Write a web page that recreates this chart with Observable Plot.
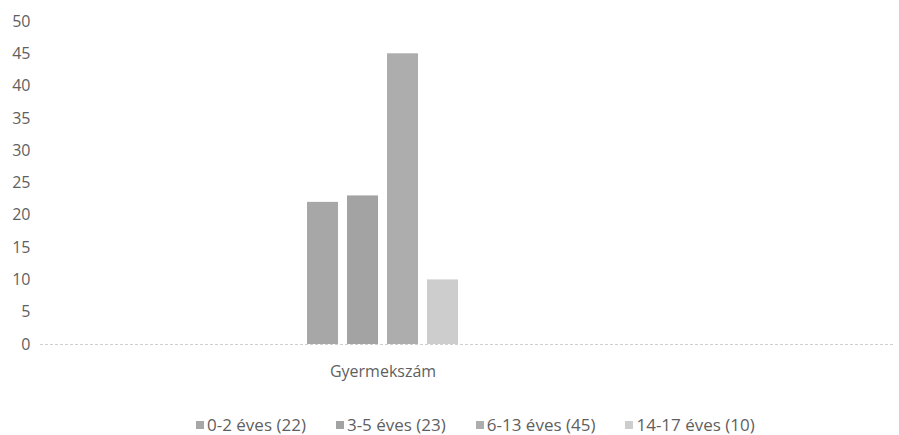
<!DOCTYPE html>
<html>
<head>
<meta charset="utf-8">
<script src="https://cdn.jsdelivr.net/npm/d3@7"></script>
<script src="https://cdn.jsdelivr.net/npm/@observablehq/plot@0.6"></script>
<style>
  html, body { margin: 0; padding: 0; background: #fff; }
  body { font-family: "Open Sans", sans-serif; width: 899px; }
  #legend {
    display: flex; justify-content: flex-start; align-items: center;
    gap: 30px; margin-top: 23px; padding-left: 196px;
    font-size: 17px; color: #5f5f5f; line-height: 20px;
  }
  .item { display: flex; align-items: center; white-space: nowrap; }
  .sw { width: 8px; height: 8px; margin-right: 3px; display: inline-block; }
</style>
</head>
<body>
<div id="chart"></div>
<div id="legend"></div>
<script>
// ---- data ----
const categories = ["0-2 éves (22)", "3-5 éves (23)", "6-13 éves (45)", "14-17 éves (10)"];
const values = [22, 23, 45, 10];
const groupLabel = "Gyermekszám";
const yTicks = [0, 5, 10, 15, 20, 25, 30, 35, 40, 45, 50];
const colors = ["#a7a7a7", "#a3a3a3", "#adadad", "#cdcdcd"];

const data = categories.map((c, i) => ({category: c, value: values[i]}));

// ---- layout ----
const W = 899, H = 392, mL = 40, mR = 5, mT = 21, mB = 48;
const xRange = [307, 458];
const frameCenter = mL + (W - mL - mR) / 2;
const bandCenter = (xRange[0] + xRange[1]) / 2;

const chart = Plot.plot({
  width: W, height: H,
  marginLeft: mL, marginRight: mR, marginTop: mT, marginBottom: mB,
  style: {fontFamily: "Open Sans", fontSize: "16px", color: "#5f5f5f", background: "#fff"},
  x: {domain: categories, range: xRange, paddingInner: 0.225, paddingOuter: 0, axis: null},
  y: {domain: [0, 50], axis: null},
  color: {domain: categories, range: colors},
  marks: [
    Plot.ruleY([0], {stroke: "#cfcfcf", strokeDasharray: "3,2"}),
    Plot.axisY(yTicks, {tickSize: 0, tickPadding: 10, label: null, fill: "#5f5f5f", fontSize: 16}),
    Plot.barY(data, {x: "category", y: "value", fill: "category"}),
    Plot.text([groupLabel], {
      frameAnchor: "bottom", dx: bandCenter - frameCenter, dy: 32,
      fill: "#5f5f5f", fontSize: 16
    })
  ]
});
document.getElementById("chart").appendChild(chart);

// ---- legend ----
const legend = document.getElementById("legend");
categories.forEach((c, i) => {
  const item = document.createElement("span");
  item.className = "item";
  const sw = document.createElement("span");
  sw.className = "sw";
  sw.style.background = colors[i];
  item.appendChild(sw);
  item.appendChild(document.createTextNode(c));
  legend.appendChild(item);
});
</script>
</body>
</html>
